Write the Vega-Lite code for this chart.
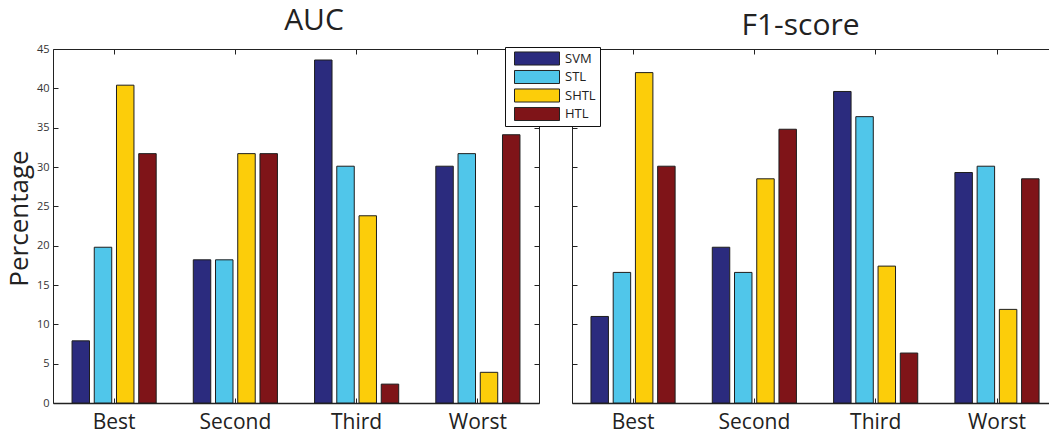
{
  "$schema": "https://vega.github.io/schema/vega-lite/v6.json",
  "background": "white",
  "padding": {"left": 6, "top": 5, "right": 0, "bottom": 0},
  "spacing": 31,
  "data": {
    "values": [
      {"metric": "AUC", "rank": "Best", "method": "SVM", "value": 7.9},
      {"metric": "AUC", "rank": "Best", "method": "STL", "value": 19.8},
      {"metric": "AUC", "rank": "Best", "method": "SHTL", "value": 40.4},
      {"metric": "AUC", "rank": "Best", "method": "HTL", "value": 31.7},
      {"metric": "AUC", "rank": "Second", "method": "SVM", "value": 18.2},
      {"metric": "AUC", "rank": "Second", "method": "STL", "value": 18.2},
      {"metric": "AUC", "rank": "Second", "method": "SHTL", "value": 31.7},
      {"metric": "AUC", "rank": "Second", "method": "HTL", "value": 31.7},
      {"metric": "AUC", "rank": "Third", "method": "SVM", "value": 43.6},
      {"metric": "AUC", "rank": "Third", "method": "STL", "value": 30.1},
      {"metric": "AUC", "rank": "Third", "method": "SHTL", "value": 23.8},
      {"metric": "AUC", "rank": "Third", "method": "HTL", "value": 2.4},
      {"metric": "AUC", "rank": "Worst", "method": "SVM", "value": 30.1},
      {"metric": "AUC", "rank": "Worst", "method": "STL", "value": 31.7},
      {"metric": "AUC", "rank": "Worst", "method": "SHTL", "value": 3.9},
      {"metric": "AUC", "rank": "Worst", "method": "HTL", "value": 34.1},
      {"metric": "F1-score", "rank": "Best", "method": "SVM", "value": 11.0},
      {"metric": "F1-score", "rank": "Best", "method": "STL", "value": 16.6},
      {"metric": "F1-score", "rank": "Best", "method": "SHTL", "value": 42.0},
      {"metric": "F1-score", "rank": "Best", "method": "HTL", "value": 30.1},
      {"metric": "F1-score", "rank": "Second", "method": "SVM", "value": 19.8},
      {"metric": "F1-score", "rank": "Second", "method": "STL", "value": 16.6},
      {"metric": "F1-score", "rank": "Second", "method": "SHTL", "value": 28.5},
      {"metric": "F1-score", "rank": "Second", "method": "HTL", "value": 34.8},
      {"metric": "F1-score", "rank": "Third", "method": "SVM", "value": 39.6},
      {"metric": "F1-score", "rank": "Third", "method": "STL", "value": 36.4},
      {"metric": "F1-score", "rank": "Third", "method": "SHTL", "value": 17.4},
      {"metric": "F1-score", "rank": "Third", "method": "HTL", "value": 6.35},
      {"metric": "F1-score", "rank": "Worst", "method": "SVM", "value": 29.3},
      {"metric": "F1-score", "rank": "Worst", "method": "STL", "value": 30.1},
      {"metric": "F1-score", "rank": "Worst", "method": "SHTL", "value": 11.9},
      {"metric": "F1-score", "rank": "Worst", "method": "HTL", "value": 28.5}
    ]
  },
  "config": {
    "font": "Open Sans",
    "view": {"stroke": null},
    "axis": {"grid": false, "domainColor": "#222", "tickColor": "#222", "labelColor": "#222", "titleColor": "#222", "titleFontWeight": "normal"},
    "title": {"fontSize": 30, "fontWeight": "normal", "color": "#222", "font": "Open Sans"},
    "legend": {
      "orient": "none",
      "legendX": 452,
      "legendY": -2,
      "title": null,
      "strokeColor": "#111",
      "fillColor": "white",
      "padding": 4,
      "symbolType": "M-1,-0.29L1,-0.29L1,0.29L-1,0.29Z",
      "symbolSize": 2025,
      "symbolOffset": 5,
      "clipHeight": 15,
      "symbolStrokeColor": "#222",
      "symbolStrokeWidth": 1,
      "symbolOpacity": 1,
      "labelFontSize": 13,
      "labelColor": "#222",
      "labelFont": "Open Sans",
      "rowPadding": 3.5,
      "labelOffset": 5
    }
  },
  "hconcat": [
    {
      "width": 486,
      "height": 354,
      "title": {"text": "AUC", "dx": 18, "dy": 4.5, "offset": 12},
      "transform": [{"filter": "datum.metric === 'AUC'"}],
      "layer": [
        {
          "mark": {"type": "bar", "stroke": "#1e1e1e", "strokeWidth": 1},
          "encoding": {
            "x": {"field": "rank", "type": "nominal", "sort": ["Best", "Second", "Third", "Worst"],
              "scale": {"paddingInner": 0.306, "paddingOuter": 0.157},
              "axis": {"orient": "bottom", "title": null, "labelAngle": 0, "labelFontSize": 21, "tickSize": -5, "labelBaseline": "alphabetic", "labelPadding": 30, "domainWidth": 1.5}},
            "xOffset": {"field": "method", "sort": ["SVM", "STL", "SHTL", "HTL"], "scale": {"paddingInner": 0.214, "paddingOuter": 0}},
            "y": {"field": "value", "type": "quantitative", "scale": {"domain": [0, 45], "nice": false},
              "axis": {"orient": "left", "values": [0, 5, 10, 15, 20, 25, 30, 35, 40, 45], "title": "Percentage", "titleFontSize": 26, "titlePadding": 4, "titleY": 169, "labelFontSize": 11, "labelColor": "#333", "tickSize": -5, "labelPadding": 9}},
            "color": {"field": "method", "type": "nominal", "sort": ["SVM", "STL", "SHTL", "HTL"],
              "scale": {"domain": ["SVM", "STL", "SHTL", "HTL"], "range": ["#2b2b7e", "#50c6ea", "#fccd0a", "#7f1418"]},
              "legend": {"labelExpr": "datum.label + '\u00a0\u00a0\u00a0'"}}
          }
        },
        {
          "mark": {"type": "bar", "opacity": 0},
          "encoding": {
            "x": {"field": "rank", "type": "nominal", "sort": ["Best", "Second", "Third", "Worst"],
              "axis": {"orient": "top", "title": null, "labels": false, "tickSize": -5}},
            "xOffset": {"field": "method", "sort": ["SVM", "STL", "SHTL", "HTL"]},
            "y": {"field": "value", "type": "quantitative",
              "axis": {"orient": "right", "values": [0, 5, 10, 15, 20, 25, 30, 35, 40, 45], "title": null, "labels": false, "tickSize": -5}}
          }
        }
      ],
      "resolve": {"axis": {"x": "independent", "y": "independent"}}
    },
    {
      "width": 477,
      "height": 354,
      "title": {"text": "F1-score", "dx": -10, "dy": 4.5, "offset": 12},
      "transform": [{"filter": "datum.metric === 'F1-score'"}],
      "layer": [
        {
          "mark": {"type": "bar", "stroke": "#1e1e1e", "strokeWidth": 1},
          "encoding": {
            "x": {"field": "rank", "type": "nominal", "sort": ["Best", "Second", "Third", "Worst"],
              "scale": {"paddingInner": 0.306, "paddingOuter": 0.119, "align": 0.657},
              "axis": {"orient": "bottom", "title": null, "labelAngle": 0, "labelFontSize": 21, "tickSize": -5, "labelBaseline": "alphabetic", "labelPadding": 30, "domainWidth": 1.5}},
            "xOffset": {"field": "method", "sort": ["SVM", "STL", "SHTL", "HTL"], "scale": {"paddingInner": 0.214, "paddingOuter": 0}},
            "y": {"field": "value", "type": "quantitative", "scale": {"domain": [0, 45], "nice": false},
              "axis": {"orient": "left", "values": [0, 5, 10, 15, 20, 25, 30, 35, 40, 45], "title": null, "labels": false, "tickSize": -5}},
            "color": {"field": "method", "type": "nominal", "sort": ["SVM", "STL", "SHTL", "HTL"],
              "scale": {"domain": ["SVM", "STL", "SHTL", "HTL"], "range": ["#2b2b7e", "#50c6ea", "#fccd0a", "#7f1418"]},
              "legend": {"labelExpr": "datum.label + '\u00a0\u00a0\u00a0'"}}
          }
        },
        {
          "mark": {"type": "bar", "opacity": 0},
          "encoding": {
            "x": {"field": "rank", "type": "nominal", "sort": ["Best", "Second", "Third", "Worst"],
              "axis": {"orient": "top", "title": null, "labels": false, "tickSize": -5}},
            "xOffset": {"field": "method", "sort": ["SVM", "STL", "SHTL", "HTL"]},
            "y": {"field": "value", "type": "quantitative", "axis": null}
          }
        }
      ],
      "resolve": {"axis": {"x": "independent", "y": "independent"}}
    }
  ]
}
